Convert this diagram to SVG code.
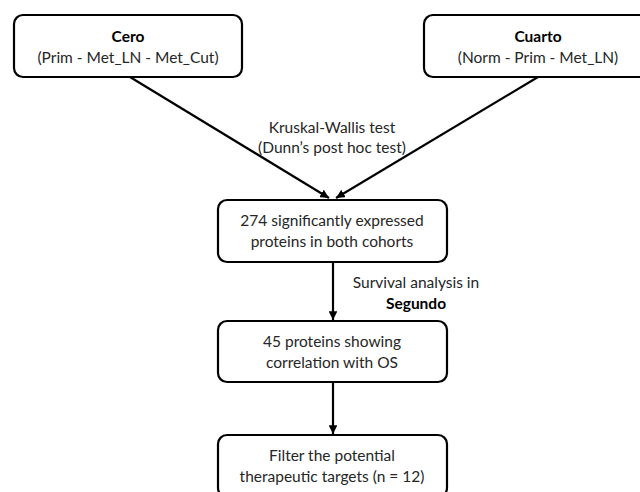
<svg xmlns="http://www.w3.org/2000/svg" width="640" height="492" viewBox="0 0 640 492">
<defs>
<style>
.box{fill:#fff;stroke:#000;stroke-width:2.2}
.t{font-family:Lato,"Liberation Sans",sans-serif;font-size:15.5px;fill:#262626;text-anchor:middle}
.b{font-weight:bold;fill:#000}
.c{stroke:#000;stroke-width:2.2;fill:none}
</style>
<marker id="ah" viewBox="0 0 10 10" refX="10" refY="5" markerWidth="4" markerHeight="4" orient="auto" markerUnits="strokeWidth">
<path d="M0,0 L10,5 L0,10 z" fill="#000"/>
</marker>
</defs>
<rect width="640" height="492" fill="#fff"/>
<g id="connectors">
<line class="c" x1="130" y1="77" x2="329" y2="198" marker-end="url(#ah)"/>
<line class="c" x1="538" y1="77" x2="336" y2="198" marker-end="url(#ah)"/>
<line class="c" x1="333" y1="262" x2="333" y2="320" marker-end="url(#ah)"/>
<line class="c" x1="333" y1="382" x2="333" y2="434" marker-end="url(#ah)"/>
<text class="t" x="332" y="133">Kruskal-Wallis test</text>
<text class="t" x="332" y="153">(Dunn’s post hoc test)</text>
<text class="t" x="416" y="288">Survival analysis in</text>
<text class="t b" x="416" y="309">Segundo</text>
</g>
<g id="cero">
<rect class="box" x="14" y="15" width="228" height="62" rx="9"/>
<text class="t b" x="128" y="42">Cero</text>
<text class="t" x="128" y="63">(Prim - Met_LN - Met_Cut)</text>
</g>
<g id="cuarto">
<rect class="box" x="424" y="15" width="228" height="62" rx="9"/>
<text class="t b" x="538" y="42">Cuarto</text>
<text class="t" x="538" y="63">(Norm - Prim - Met_LN)</text>
</g>
<g id="n274">
<rect class="box" x="218" y="200" width="229" height="62" rx="9"/>
<text class="t" x="332" y="226">274 significantly expressed</text>
<text class="t" x="332" y="247">proteins in both cohorts</text>
</g>
<g id="n45">
<rect class="box" x="218" y="321" width="229" height="61" rx="9"/>
<text class="t" x="332" y="347">45 proteins showing</text>
<text class="t" x="332" y="368">correlation with OS</text>
</g>
<g id="filter">
<rect class="box" x="218" y="435" width="229" height="62" rx="9"/>
<text class="t" x="332" y="461">Filter the potential</text>
<text class="t" x="332" y="482">therapeutic targets (n = 12)</text>
</g>
</svg>
